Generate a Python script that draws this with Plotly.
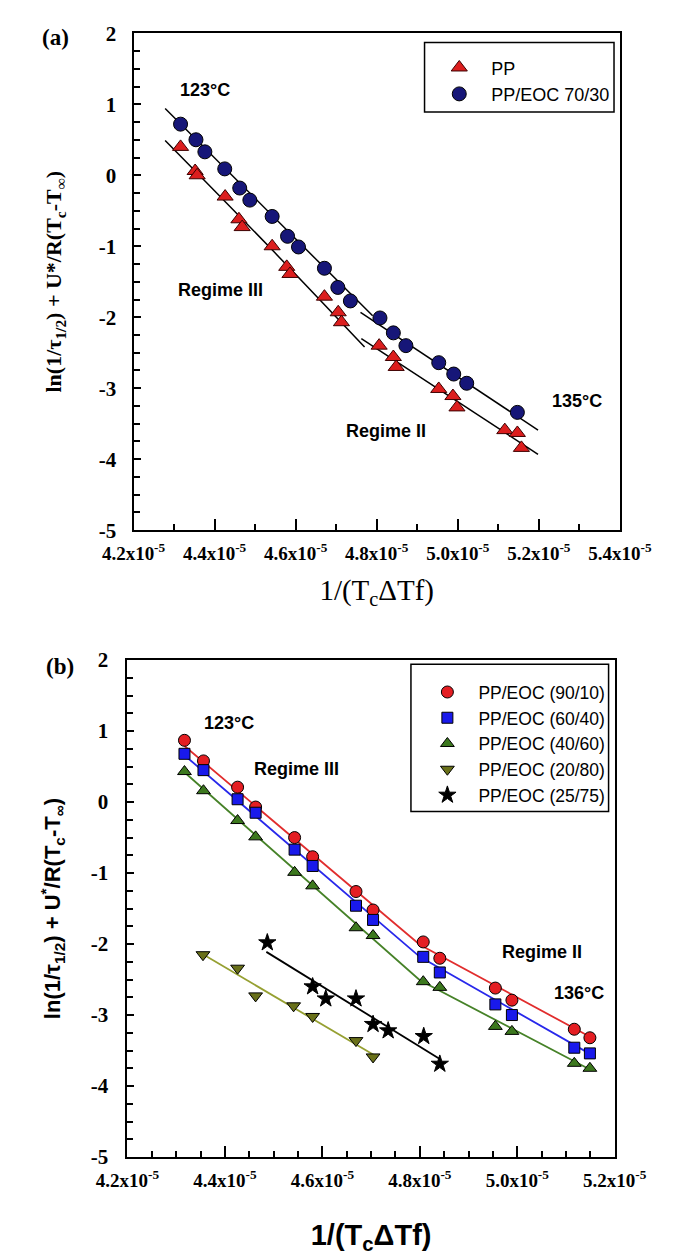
import plotly.graph_objects as go

W, H = 685, 1258

# ---------------- Panel (a) data ----------------
pp_x = [4.316e-5, 4.352e-5, 4.357e-5, 4.426e-5, 4.460e-5, 4.468e-5, 4.542e-5, 4.578e-5, 4.586e-5,
        4.671e-5, 4.705e-5, 4.713e-5, 4.806e-5, 4.841e-5, 4.848e-5, 4.953e-5, 4.988e-5, 4.998e-5,
        5.116e-5, 5.147e-5, 5.157e-5]
pp_y = [0.40, 0.06, 0.00, -0.30, -0.62, -0.73, -1.00, -1.29, -1.39,
        -1.71, -1.93, -2.07, -2.40, -2.56, -2.70, -3.01, -3.11, -3.27,
        -3.59, -3.63, -3.84]

eoc7030_x = [4.316e-5, 4.354e-5, 4.376e-5, 4.425e-5, 4.462e-5, 4.487e-5, 4.542e-5, 4.580e-5, 4.607e-5,
             4.671e-5, 4.704e-5, 4.735e-5, 4.808e-5, 4.841e-5, 4.872e-5, 4.953e-5, 4.990e-5, 5.022e-5,
             5.147e-5]
eoc7030_y = [0.72, 0.50, 0.33, 0.09, -0.18, -0.35, -0.58, -0.86, -1.01,
             -1.31, -1.58, -1.77, -2.01, -2.22, -2.40, -2.64, -2.80, -2.93,
             -3.34]

# fitted lines (panel a)
pp_r3_x = [4.278e-5, 4.54e-5, 4.77e-5]
pp_r3_y = [0.49, -1.04, -2.42]
pp_r2_x = [4.762e-5, 5.198e-5]
pp_r2_y = [-2.30, -3.93]
eoc_r3_x = [4.278e-5, 4.79e-5]
eoc_r3_y = [0.94, -1.98]
eoc_r2_x = [4.76e-5, 5.198e-5]
eoc_r2_y = [-1.93, -3.59]

# ---------------- Panel (b) data ----------------
b_x = [4.317e-5, 4.356e-5, 4.426e-5, 4.463e-5, 4.543e-5, 4.580e-5, 4.669e-5, 4.704e-5,
       4.807e-5, 4.841e-5, 4.955e-5, 4.989e-5, 5.117e-5, 5.149e-5]
b9010_y = [0.87, 0.58, 0.21, -0.07, -0.50, -0.77, -1.26, -1.52,
           -1.97, -2.20, -2.62, -2.79, -3.20, -3.32]
b6040_y = [0.68, 0.45, 0.04, -0.15, -0.67, -0.90, -1.46, -1.66,
           -2.18, -2.40, -2.85, -3.00, -3.46, -3.54]
b4060_y = [0.43, 0.16, -0.26, -0.49, -0.99, -1.18, -1.77, -1.88,
           -2.53, -2.61, -3.16, -3.23, -3.68, -3.75]
b2080_x = [4.355e-5, 4.426e-5, 4.463e-5, 4.541e-5, 4.580e-5, 4.669e-5, 4.704e-5]
b2080_y = [-2.15, -2.34, -2.73, -2.87, -3.02, -3.36, -3.59]
b2575_x = [4.487e-5, 4.580e-5, 4.607e-5, 4.669e-5, 4.704e-5, 4.735e-5, 4.808e-5, 4.841e-5]
b2575_y = [-1.98, -2.60, -2.77, -2.77, -3.13, -3.22, -3.30, -3.69]

# fitted lines (panel b)
l9010_x = [4.317e-5, 4.80e-5, 5.15e-5]
l9010_y = [0.79, -2.01, -3.31]
l6040_x = [4.317e-5, 4.80e-5, 5.15e-5]
l6040_y = [0.66, -2.18, -3.55]
l4060_x = [4.317e-5, 4.80e-5, 5.15e-5]
l4060_y = [0.42, -2.51, -3.77]
l2080_x = [4.354e-5, 4.705e-5]
l2080_y = [-2.14, -3.56]
l2575_x = [4.485e-5, 4.841e-5]
l2575_y = [-2.11, -3.62]

# ---------------- axis ticks ----------------
xa_tickvals = [4.2e-5, 4.4e-5, 4.6e-5, 4.8e-5, 5.0e-5, 5.2e-5, 5.4e-5]
xa_ticktext = ["4.2x10<sup>-5</sup>", "4.4x10<sup>-5</sup>", "4.6x10<sup>-5</sup>", "4.8x10<sup>-5</sup>",
               "5.0x10<sup>-5</sup>", "5.2x10<sup>-5</sup>", "5.4x10<sup>-5</sup>"]
xa_minor = [4.3e-5, 4.5e-5, 4.7e-5, 4.9e-5, 5.1e-5, 5.3e-5]
xb_tickvals = [4.2e-5, 4.4e-5, 4.6e-5, 4.8e-5, 5.0e-5, 5.2e-5]
xb_ticktext = ["4.2x10<sup>-5</sup>", "4.4x10<sup>-5</sup>", "4.6x10<sup>-5</sup>", "4.8x10<sup>-5</sup>",
               "5.0x10<sup>-5</sup>", "5.2x10<sup>-5</sup>"]
xb_minor = [4.25e-5, 4.30e-5, 4.35e-5, 4.45e-5, 4.50e-5, 4.55e-5, 4.65e-5, 4.70e-5, 4.75e-5,
            4.85e-5, 4.90e-5, 4.95e-5, 5.05e-5, 5.10e-5, 5.15e-5]
y_tickvals = [-5, -4, -3, -2, -1, 0, 1, 2]
y_ticktext = ["-5", "-4", "-3", "-2", "-1", "0", "1", "2"]


def px(x):
    return x / W


def py(y):
    return 1 - y / H


SERIF = "Liberation Serif"
SANS = "Liberation Sans"

fig = go.Figure()

# ---- panel (a) traces ----
line_a = dict(color="black", width=1.5)
for lx, ly in [(pp_r3_x, pp_r3_y), (pp_r2_x, pp_r2_y), (eoc_r3_x, eoc_r3_y), (eoc_r2_x, eoc_r2_y)]:
    fig.add_trace(go.Scatter(x=lx, y=ly, mode="lines", line=dict(shape="spline", **line_a),
                             showlegend=False, xaxis="x", yaxis="y", hoverinfo="skip"))
fig.add_trace(go.Scatter(x=pp_x, y=pp_y, mode="markers", name="PP",
                         marker=dict(symbol="triangle-up", size=14, color="rgb(220,30,30)",
                                     line=dict(color="rgb(60,0,0)", width=1)),
                         xaxis="x", yaxis="y", legend="legend"))
fig.add_trace(go.Scatter(x=eoc7030_x, y=eoc7030_y, mode="markers", name="PP/EOC 70/30",
                         marker=dict(symbol="circle", size=14, color="rgb(22,22,120)",
                                     line=dict(color="black", width=1)),
                         xaxis="x", yaxis="y", legend="legend"))

# ---- panel (b) traces ----
b_lines = [(l9010_x, l9010_y, "rgb(225,45,45)"), (l6040_x, l6040_y, "rgb(40,40,235)"),
           (l4060_x, l4060_y, "rgb(70,130,40)"), (l2080_x, l2080_y, "rgb(150,160,50)"),
           (l2575_x, l2575_y, "black")]
for lx, ly, c in b_lines:
    fig.add_trace(go.Scatter(x=lx, y=ly, mode="lines", line=dict(color=c, width=1.8),
                             showlegend=False, xaxis="x2", yaxis="y2", hoverinfo="skip"))

b_series = [
    (b_x, b9010_y, "PP/EOC (90/10)", "circle", "rgb(228,30,35)", 12),
    (b_x, b6040_y, "PP/EOC (60/40)", "square", "rgb(25,25,235)", 11),
    (b_x, b4060_y, "PP/EOC (40/60)", "triangle-up", "rgb(60,120,30)", 12),
    (b2080_x, b2080_y, "PP/EOC (20/80)", "triangle-down", "rgb(105,112,25)", 12),
    (b2575_x, b2575_y, "PP/EOC (25/75)", "star", "black", 13),
]
for sx, sy, name, sym, col, sz in b_series:
    fig.add_trace(go.Scatter(x=sx, y=sy, mode="markers", name=name,
                             marker=dict(symbol=sym, size=sz, color=col,
                                         line=dict(color="black", width=1)),
                             xaxis="x2", yaxis="y2", legend="legend2"))

xtickfont = dict(family=SERIF, size=19, color="black", weight="bold")
ytickfont = dict(family=SERIF, size=21, color="black", weight="bold")
common_ax = dict(showline=True, linewidth=2, linecolor="black", mirror=True, showgrid=False,
                 zeroline=False, ticks="inside", tickcolor="black", tickwidth=1.5)

fig.update_layout(
    width=W, height=H, margin=dict(l=0, r=0, t=0, b=0),
    paper_bgcolor="white", plot_bgcolor="white",
    xaxis=dict(domain=[px(112), px(648.5)], range=[4.2e-5, 5.4e-5], anchor="y",
               tickmode="array", tickvals=xa_tickvals, ticktext=xa_ticktext, ticklen=11,
               minor=dict(tickmode="array", tickvals=xa_minor, ticks="inside", ticklen=6,
                          tickcolor="black", tickwidth=1.5),
               tickfont=xtickfont, ticklabelstandoff=5,
               title=dict(text="1/(T<sub>c</sub>ΔTf)", standoff=17,
                          font=dict(family=SERIF, size=29, color="black")),
               **common_ax),
    yaxis=dict(domain=[py(528.3), py(21.7)], range=[-5, 2], anchor="x",
               tickmode="array", tickvals=y_tickvals, ticktext=y_ticktext, ticklen=7,
               minor=dict(dtick=0.25, ticks="inside", ticklen=6, tickcolor="black", tickwidth=1.5),
               tickfont=ytickfont, ticklabelstandoff=11,
               title=dict(text="ln(1/τ<sub>1/2</sub>) + U*/R(T<sub>c</sub>-T<sub>∞</sub>)", standoff=31,
                          font=dict(family=SERIF, size=22, color="black", weight="bold")),
               **common_ax),
    xaxis2=dict(domain=[px(105.3), px(642.8)], range=[4.2e-5, 5.2e-5], anchor="y2",
                tickmode="array", tickvals=xb_tickvals, ticktext=xb_ticktext, ticklen=11,
                minor=dict(tickmode="array", tickvals=xb_minor, ticks="inside", ticklen=6,
                           tickcolor="black", tickwidth=1.5),
                tickfont=xtickfont, ticklabelstandoff=5,
                title=dict(text="1/(T<sub>c</sub>ΔTf)", standoff=35,
                           font=dict(family=SANS, size=29, color="black", weight="bold")),
                **common_ax),
    yaxis2=dict(domain=[py(1167.3), py(660.7)], range=[-5, 2], anchor="x2",
                tickmode="array", tickvals=y_tickvals, ticktext=y_ticktext, ticklen=7,
                minor=dict(dtick=0.25, ticks="inside", ticklen=6, tickcolor="black", tickwidth=1.5),
                tickfont=ytickfont, ticklabelstandoff=13,
                title=dict(text="ln(1/τ<sub>1/2</sub>) + U<sup>*</sup>/R(T<sub>c</sub>-T<sub>∞</sub>)",
                           standoff=24, font=dict(family=SANS, size=22, color="black", weight="bold")),
                **common_ax),
    legend=dict(x=px(436), y=py(38), xanchor="left", yanchor="top", bgcolor="rgba(0,0,0,0)",
                borderwidth=0, itemwidth=54, font=dict(family=SANS, size=18, color="black")),
    legend2=dict(x=px(424), y=py(675), xanchor="left", yanchor="top", bgcolor="rgba(0,0,0,0)",
                 borderwidth=0, itemwidth=52, font=dict(family=SANS, size=17.5, color="black")),
    shapes=[
        dict(type="rect", xref="paper", yref="paper", x0=px(433), x1=px(642), y0=py(102), y1=py(31),
             line=dict(color="black", width=1.5), fillcolor="rgba(0,0,0,0)"),
        dict(type="rect", xref="paper", yref="paper", x0=px(418), x1=px(636), y0=py(815), y1=py(665),
             line=dict(color="black", width=1.5), fillcolor="rgba(0,0,0,0)"),
    ],
)


def ann(text, x, y, size, family=SANS, bold=True):
    fig.add_annotation(text=text, x=px(x), y=py(y), xref="paper", yref="paper", showarrow=False,
                       xanchor="center", yanchor="middle",
                       font=dict(family=family, size=size, color="black",
                                 weight="bold" if bold else "normal"))


# panel (a) texts
ann("(a)", 26, 26, 23, family=SERIF)
ann("123°C", 191, 80, 18)
ann("Regime III", 208, 283, 18)
ann("Regime II", 390, 427, 18)
ann("135°C", 601, 397, 18)

# panel (b) texts
ann("(b)", 31, 667, 23, family=SERIF)
ann("123°C", 217, 725, 18)
ann("Regime III", 292, 772, 18)
ann("Regime II", 563, 958, 18)
ann("136°C", 603, 1000, 18)

fig.write_html("out.html")
